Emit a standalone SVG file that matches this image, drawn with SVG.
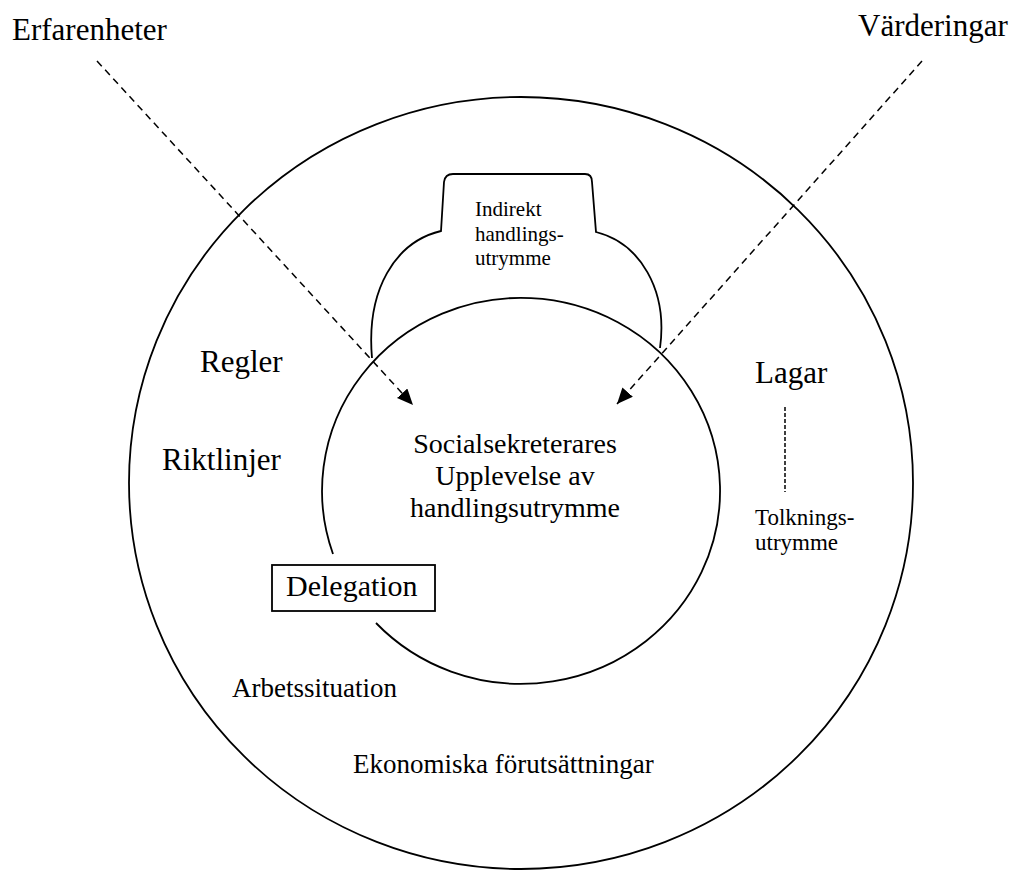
<svg xmlns="http://www.w3.org/2000/svg" width="1011" height="870" viewBox="0 0 1011 870">
<style>
text{font-family:"Liberation Serif","Times New Roman",serif;fill:#000}
.ln{fill:none;stroke:#000;stroke-width:1.8}
.dash{fill:none;stroke:#000;stroke-width:1.5;stroke-dasharray:7 5}
</style>
<defs>
<marker id="ah" markerUnits="userSpaceOnUse" markerWidth="18" markerHeight="16" refX="16" refY="7" orient="auto">
<path d="M0,0 L16,7 L0,14 Z" fill="#000"/>
</marker>
</defs>
<rect width="1011" height="870" fill="#fff"/>
<g id="outer-circle">
<ellipse class="ln" cx="521" cy="483" rx="392" ry="386"/>
</g>
<g id="inner-circle">
<path class="ln" d="M376,623 A199,193 0 1 0 333,554"/>
</g>
<g id="indirekt">
<path class="ln" d="M372,358 C366,290 395,242 441,231 L444,182 Q445,174 453,174 L585,174 Q592,174 592,182 L596,232 C640,243 668,290 660,348"/>
<text font-size="21" x="475" y="216">Indirekt</text>
<text font-size="21" x="475" y="241">handlings-</text>
<text font-size="21" x="475" y="265">utrymme</text>
</g>
<g id="delegation">
<rect x="272" y="565" width="163" height="46" fill="#fff" stroke="#000" stroke-width="1.8"/>
<text font-size="30" x="286" y="596">Delegation</text>
</g>
<g id="center">
<text font-size="28" text-anchor="middle" x="515" y="453">Socialsekreterares</text>
<text font-size="28" text-anchor="middle" x="515" y="485">Upplevelse av</text>
<text font-size="28" text-anchor="middle" x="515" y="517">handlingsutrymme</text>
</g>
<g id="erfarenheter"><text font-size="31" x="12" y="40">Erfarenheter</text></g>
<g id="varderingar"><text font-size="31" x="858" y="36">Värderingar</text></g>
<g id="regler"><text font-size="31" x="200" y="372">Regler</text></g>
<g id="riktlinjer"><text font-size="31" x="162" y="470">Riktlinjer</text></g>
<g id="lagar"><text font-size="31" x="755" y="383">Lagar</text></g>
<g id="tolkning">
<text font-size="23" x="755" y="525">Tolknings-</text>
<text font-size="23" x="755" y="550">utrymme</text>
</g>
<g id="arbetssituation"><text font-size="27" x="232" y="697">Arbetssituation</text></g>
<g id="ekonomi"><text font-size="27" x="353" y="773">Ekonomiska förutsättningar</text></g>
<g id="connectors">
<line class="dash" x1="97" y1="61" x2="413" y2="405" marker-end="url(#ah)"/>
<line class="dash" x1="922" y1="61" x2="617" y2="404" marker-end="url(#ah)"/>
<line fill="none" stroke="#000" stroke-width="1.5" stroke-dasharray="4 2" x1="785" y1="407" x2="785" y2="492"/>
</g>
</svg>
